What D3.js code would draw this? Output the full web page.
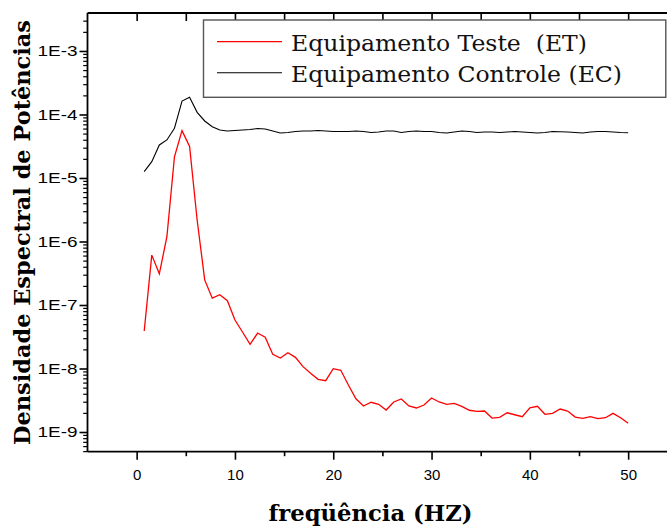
<!DOCTYPE html>
<html>
<head>
<meta charset="utf-8">
<script src="https://cdn.jsdelivr.net/npm/d3@7"></script>
<style>
  html, body { margin: 0; padding: 0; background: #fff; }
  svg { display: block; }
</style>
</head>
<body>
<svg id="chart" width="667" height="528"></svg>
<script>
// ---- data ----
const nPoints = 65;            // spectral lines, step 50/65 Hz
const freqStep = 50 / 65;
const frequencies = d3.range(1, nPoints + 1).map(n => n * freqStep);

const seriesNames = ["Equipamento Teste  (ET)", "Equipamento Controle (EC)"];

const testET = [
  3.9e-8, 6.1e-7, 3.1e-7, 1.19e-6, 2.16e-5, 5.56e-5, 3.13e-5, 2.18e-6, 2.48e-7, 1.28e-7,
  1.45e-7, 1.17e-7, 5.8e-8, 3.76e-8, 2.4e-8, 3.62e-8, 3.1e-8, 1.67e-8, 1.46e-8, 1.77e-8,
  1.5e-8, 1.07e-8, 8.4e-9, 6.76e-9, 6.43e-9, 9.93e-9, 9.37e-9, 5.5e-9, 3.34e-9, 2.57e-9,
  2.94e-9, 2.73e-9, 2.22e-9, 2.97e-9, 3.31e-9, 2.57e-9, 2.39e-9, 2.66e-9, 3.43e-9, 2.97e-9,
  2.73e-9, 2.83e-9, 2.54e-9, 2.2e-9, 2.12e-9, 2.14e-9, 1.66e-9, 1.7e-9, 2.01e-9, 1.87e-9,
  1.74e-9, 2.41e-9, 2.54e-9, 1.9e-9, 1.97e-9, 2.3e-9, 2.14e-9, 1.72e-9, 1.64e-9, 1.74e-9,
  1.62e-9, 1.68e-9, 1.97e-9, 1.68e-9, 1.37e-9
];

const controlEC = [
  1.26e-5, 1.81e-5, 3.31e-5, 3.97e-5, 6.07e-5, 1.63e-4, 1.87e-4, 1.08e-4, 7.9e-5, 6.43e-5,
  5.7e-5, 5.5e-5, 5.6e-5, 5.7e-5, 5.8e-5, 6.02e-5, 5.9e-5, 5.5e-5, 5.11e-5, 5.21e-5,
  5.4e-5, 5.5e-5, 5.5e-5, 5.6e-5, 5.5e-5, 5.4e-5, 5.4e-5, 5.4e-5, 5.5e-5, 5.4e-5,
  5.21e-5, 5.3e-5, 5.5e-5, 5.5e-5, 5.21e-5, 5.4e-5, 5.5e-5, 5.4e-5, 5.4e-5, 5.21e-5,
  5.11e-5, 5.3e-5, 5.5e-5, 5.4e-5, 5.21e-5, 5.3e-5, 5.3e-5, 5.21e-5, 5.3e-5, 5.4e-5,
  5.3e-5, 5.21e-5, 5.11e-5, 5.21e-5, 5.4e-5, 5.36e-5, 5.3e-5, 5.21e-5, 5.11e-5, 5.3e-5,
  5.4e-5, 5.4e-5, 5.3e-5, 5.21e-5, 5.17e-5
];

const xMajorTicks = [0, 10, 20, 30, 40, 50];
const xMinorTicks = [5, 15, 25, 35, 45, 55];
const xTopTicks = [0, 5, 10, 15, 20, 25, 30, 35, 40, 45, 50, 55];
const yMajorExponents = [-3, -4, -5, -6, -7, -8, -9];
const yMajorLabels = ["1E-3", "1E-4", "1E-5", "1E-6", "1E-7", "1E-8", "1E-9"];

const xTitle = "freqüência (HZ)";
const yTitle = "Densidade Espectral de Potências";

// ---- layout ----
const svg = d3.select("#chart");
const plotLeft = 87.5, plotRight = 677.3, plotTop = 13, plotBottom = 451.7;

const x = d3.scaleLinear().domain([-5, 55]).range([plotLeft, plotRight]);
const y = d3.scaleLog().domain([Math.pow(10, -9.31), Math.pow(10, -2.402)]).range([plotBottom, plotTop]);

const sansFont = "'Liberation Sans', Arial, sans-serif";
const serifFont = "'DejaVu Serif', serif";

// minor log ticks
const yMinor = [];
for (let e = -10; e <= -3; e++) {
  for (let m = 2; m <= 9; m++) {
    const v = m * Math.pow(10, e);
    if (v >= y.domain()[0] && v <= y.domain()[1]) yMinor.push(v);
  }
}
const yMajor = yMajorExponents.map(e => Math.pow(10, e));

// ---- lines ----
const line = d3.line()
  .x((d, i) => x(frequencies[i]))
  .y(d => y(d));

const plot = svg.append("g");
plot.append("path").datum(controlEC)
  .attr("fill", "none").attr("stroke", "#000").attr("stroke-width", 1.1)
  .attr("d", line);
plot.append("path").datum(testET)
  .attr("fill", "none").attr("stroke", "#ff0000").attr("stroke-width", 1.3)
  .attr("d", line);

// ---- axes ----
function styleAxis(g) {
  g.select(".domain").remove();
  g.selectAll(".tick line").attr("stroke", "#000").attr("stroke-width", 1.6);
}

// bottom
const gxMinor = svg.append("g").attr("transform", `translate(0,${plotBottom})`)
  .call(d3.axisBottom(x).tickValues(xMinorTicks).tickSize(4.5).tickFormat(""));
styleAxis(gxMinor);
const gx = svg.append("g").attr("transform", `translate(0,${plotBottom})`)
  .call(d3.axisBottom(x).tickValues(xMajorTicks).tickSize(8).tickPadding(9.5).tickFormat(d3.format("d")));
styleAxis(gx);
gx.selectAll("text").attr("font-family", sansFont).attr("font-size", 15).attr("fill", "#000");

// top (inward ticks)
const gTop = svg.append("g").attr("transform", `translate(0,${plotTop})`)
  .call(d3.axisBottom(x).tickValues(xTopTicks).tickSize(8).tickFormat(""));
styleAxis(gTop);

// left
const gyMinor = svg.append("g").attr("transform", `translate(${plotLeft},0)`)
  .call(d3.axisLeft(y).tickValues(yMinor).tickSize(4.3).tickFormat(""));
styleAxis(gyMinor);
gyMinor.selectAll(".tick line").attr("stroke-width", 1.2);
const gy = svg.append("g").attr("transform", `translate(${plotLeft},0)`)
  .call(d3.axisLeft(y).tickValues(yMajor).tickSize(8).tickPadding(2)
    .tickFormat((d, i) => yMajorLabels[i]));
styleAxis(gy);
gy.selectAll("text").attr("font-family", sansFont).attr("font-size", 15).attr("fill", "#000")
  .attr("textLength", 40).attr("lengthAdjust", "spacingAndGlyphs");

// frame lines
svg.append("line").attr("x1", plotLeft).attr("x2", plotRight).attr("y1", plotBottom).attr("y2", plotBottom)
  .attr("stroke", "#000").attr("stroke-width", 1.8);
svg.append("line").attr("x1", plotLeft).attr("x2", plotRight).attr("y1", plotTop).attr("y2", plotTop)
  .attr("stroke", "#000").attr("stroke-width", 1.8);
svg.append("line").attr("x1", plotLeft).attr("x2", plotLeft).attr("y1", plotTop).attr("y2", plotBottom)
  .attr("stroke", "#000").attr("stroke-width", 1.8);

// ---- legend ----
const legend = svg.append("g");
legend.append("rect").attr("x", 203.5).attr("y", 20).attr("width", 462.3).attr("height", 77.3)
  .attr("fill", "#fff").attr("stroke", "#555").attr("stroke-width", 1.4);
const legendColors = ["#ff0000", "#000"];
const legendY = [41.7, 72.7];
const legendWidths = [296, 331];
seriesNames.forEach((name, i) => {
  legend.append("line").attr("x1", 217).attr("x2", 282)
    .attr("y1", legendY[i]).attr("y2", legendY[i])
    .attr("stroke", legendColors[i]).attr("stroke-width", i === 0 ? 1.3 : 1.1);
  legend.append("text").attr("x", 291).attr("y", legendY[i] + 9)
    .attr("font-family", serifFont).attr("font-size", 21.5)
    .attr("fill", "#111").style("white-space", "pre")
    .attr("textLength", legendWidths[i]).attr("lengthAdjust", "spacingAndGlyphs")
    .text(name);
});

// ---- titles ----
svg.append("text").attr("x", 370.5).attr("y", 521)
  .attr("text-anchor", "middle").attr("font-family", serifFont).attr("font-weight", "bold")
  .attr("font-size", 23).attr("fill", "#000")
  .attr("textLength", 204).attr("lengthAdjust", "spacingAndGlyphs")
  .text(xTitle);

svg.append("text").attr("transform", "translate(30,232.5) rotate(-90)")
  .attr("text-anchor", "middle").attr("font-family", serifFont).attr("font-weight", "bold")
  .attr("font-size", 22).attr("fill", "#000")
  .attr("textLength", 425).attr("lengthAdjust", "spacingAndGlyphs")
  .text(yTitle);
</script>
</body>
</html>
